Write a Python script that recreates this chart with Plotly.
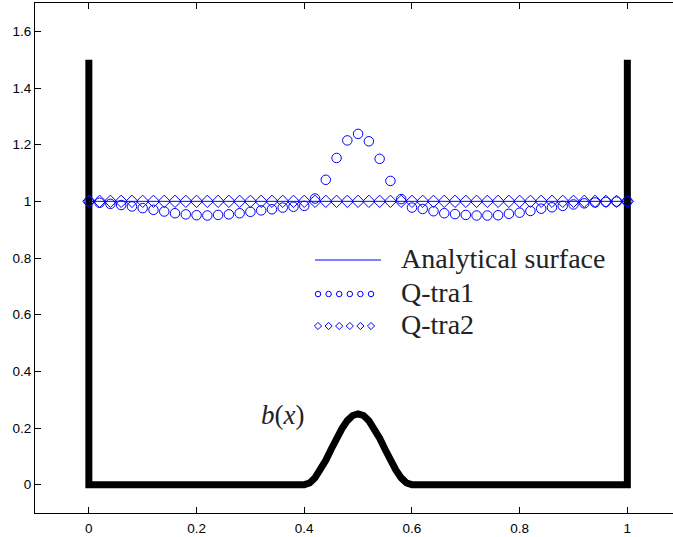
import plotly.graph_objects as go

# ---- data ----
x_pts = [0.00, 0.02, 0.04, 0.06, 0.08, 0.10, 0.12, 0.14, 0.16, 0.18,
         0.20, 0.22, 0.24, 0.26, 0.28, 0.30, 0.32, 0.34, 0.36, 0.38,
         0.40, 0.42, 0.44, 0.46, 0.48, 0.50, 0.52, 0.54, 0.56, 0.58,
         0.60, 0.62, 0.64, 0.66, 0.68, 0.70, 0.72, 0.74, 0.76, 0.78,
         0.80, 0.82, 0.84, 0.86, 0.88, 0.90, 0.92, 0.94, 0.96, 0.98, 1.00]

q_tra1 = [1.000, 0.995, 0.991, 0.987, 0.982, 0.976, 0.970, 0.964, 0.958, 0.954,
          0.951, 0.950, 0.952, 0.954, 0.958, 0.963, 0.968, 0.972, 0.978, 0.981,
          0.984, 1.010, 1.076, 1.153, 1.215, 1.238, 1.212, 1.150, 1.072, 1.008,
          0.978, 0.973, 0.965, 0.958, 0.955, 0.952, 0.950, 0.950, 0.951, 0.956,
          0.960, 0.966, 0.974, 0.979, 0.984, 0.989, 0.993, 0.996, 0.998, 0.999, 1.000]

q_tra2 = [1.0] * 51

analytic_x = [0.0, 1.0]
analytic_y = [1.0, 1.0]

# bottom topography b(x) with side walls
bed_x = [0.0, 0.0, 0.40, 0.41, 0.42, 0.43, 0.44, 0.45, 0.46, 0.47, 0.48, 0.49, 0.50,
         0.51, 0.52, 0.53, 0.54, 0.55, 0.56, 0.57, 0.58, 0.59, 0.60, 1.0, 1.0]
bed_y = [1.5, 0.0, 0.000, 0.006, 0.024, 0.052, 0.086, 0.125, 0.164, 0.198, 0.226, 0.244, 0.250,
         0.244, 0.226, 0.198, 0.164, 0.125, 0.086, 0.052, 0.024, 0.006, 0.000, 0.0, 1.5]

x_ticks = [0, 0.2, 0.4, 0.6, 0.8, 1]
y_ticks = [0, 0.2, 0.4, 0.6, 0.8, 1, 1.2, 1.4, 1.6]

names = ["Analytical surface", "Q-tra1", "Q-tra2"]

# ---- figure ----
W, H = 673, 537
ML, MR, MT, MB = 35, 0, 3, 24
BLUE = "#0000ff"

fig = go.Figure()

fig.add_trace(go.Scatter(x=bed_x, y=bed_y, mode="lines", name="b(x)",
                         line=dict(color="black", width=7), showlegend=False,
                         hoverinfo="skip"))
fig.add_trace(go.Scatter(x=analytic_x, y=analytic_y, mode="lines", name=names[0],
                         line=dict(color=BLUE, width=1), showlegend=False))
fig.add_trace(go.Scatter(x=x_pts, y=q_tra1, mode="markers", name=names[1],
                         marker=dict(symbol="circle-open", size=9.5, color=BLUE,
                                     line=dict(width=1, color=BLUE)),
                         showlegend=False))
fig.add_trace(go.Scatter(x=x_pts, y=q_tra2, mode="markers", name=names[2],
                         marker=dict(symbol="diamond-open", size=9.5, color=BLUE,
                                     line=dict(width=1, color=BLUE)),
                         showlegend=False))

# ---- hand-drawn legend (Matlab style, 6 small markers per entry) ----
pw, ph = W - ML - MR, H - MT - MB
def px(xp):
    return (xp - ML) / pw
def py(yp):
    return (H - MB - yp) / ph

leg_rows_y = [260, 294, 326]
sample_x = [318 + i * 10.6 for i in range(6)]
fig.add_trace(go.Scatter(x=[px(315), px(381)], y=[py(leg_rows_y[0])] * 2,
                         xaxis="x2", yaxis="y2", mode="lines",
                         line=dict(color=BLUE, width=1), showlegend=False,
                         hoverinfo="skip"))
fig.add_trace(go.Scatter(x=[px(v) for v in sample_x], y=[py(leg_rows_y[1])] * 6,
                         xaxis="x2", yaxis="y2", mode="markers",
                         marker=dict(symbol="circle-open", size=5.5, color=BLUE,
                                     line=dict(width=1, color=BLUE)),
                         showlegend=False, hoverinfo="skip"))
fig.add_trace(go.Scatter(x=[px(v) for v in sample_x], y=[py(leg_rows_y[2])] * 6,
                         xaxis="x2", yaxis="y2", mode="markers",
                         marker=dict(symbol="diamond-open", size=5.5, color=BLUE,
                                     line=dict(width=1, color=BLUE)),
                         showlegend=False, hoverinfo="skip"))

serif = "Liberation Serif"
for name, yp in zip(names, leg_rows_y):
    fig.add_annotation(x=px(399), y=py(yp - 2), xref="paper", yref="paper",
                       text=name, showarrow=False, xanchor="left", yanchor="middle",
                       font=dict(family=serif, size=28, color="#222222"))

fig.add_annotation(x=0.359, y=0.245, xref="x", yref="y",
                   text="<i>b</i>(<i>x</i>)", showarrow=False,
                   xanchor="center", yanchor="middle",
                   font=dict(family=serif, size=27, color="#222222"))

x_right = -0.1 + pw / 538.5

fig.update_layout(
    width=W, height=H,
    margin=dict(l=ML, r=MR, t=MT, b=MB, pad=0),
    paper_bgcolor="white", plot_bgcolor="white",
    font=dict(family="Liberation Sans", size=13.5, color="black"),
    xaxis=dict(range=[-0.1, x_right], tickvals=x_ticks,
               ticktext=[str(v) for v in x_ticks],
               ticks="inside", ticklen=6, tickwidth=1, tickcolor="black",
               ticklabelstandoff=3,
               showline=True, linecolor="black", linewidth=1, mirror="ticks",
               showgrid=False, zeroline=False),
    yaxis=dict(range=[-0.1, 1.7], tickvals=y_ticks,
               ticktext=[str(v) for v in y_ticks],
               ticks="inside", ticklen=6, tickwidth=1, tickcolor="black",
               showline=True, linecolor="black", linewidth=1, mirror=False,
               showgrid=False, zeroline=False),
    xaxis2=dict(overlaying="x", range=[0, 1], visible=False),
    yaxis2=dict(overlaying="y", range=[0, 1], visible=False),
    showlegend=False,
)

fig.write_html("out.html", config={"displayModeBar": False},
               post_script="document.body.style.margin='0';"
                           "document.body.style.overflow='hidden';")
